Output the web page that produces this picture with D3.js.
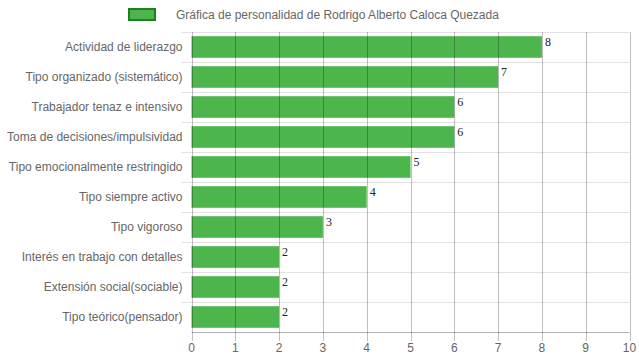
<!DOCTYPE html>
<html><head><meta charset="utf-8">
<script src="https://cdn.jsdelivr.net/npm/d3@7"></script>
<style>body{margin:0;background:#fff}svg{display:block}</style>
</head><body>
<script>
const categories = ["Actividad de liderazgo","Tipo organizado (sistemático)","Trabajador tenaz e intensivo","Toma de decisiones/impulsividad","Tipo emocionalmente restringido","Tipo siempre activo","Tipo vigoroso","Interés en trabajo con detalles","Extensión social(sociable)","Tipo teórico(pensador)"];
const values = [8,7,6,6,5,4,3,2,2,2];
const xTicks = [0,1,2,3,4,5,6,7,8,9,10];
const legendLabel = "Gráfica de personalidad de Rodrigo Alberto Caloca Quezada";

const W = 639, H = 360;
const m = {left:191.5, right:9.5, top:32, bottom:28};
const svg = d3.select("body").append("svg").attr("width",W).attr("height",H);
const x = d3.scaleLinear().domain([0,10]).range([m.left, W-m.right]);
const y = d3.scaleBand().domain(categories).range([m.top, H-m.bottom]).paddingInner(0).paddingOuter(0);
const font = "Arial, 'Liberation Sans', sans-serif";

// horizontal grid lines
const hLines = categories.map((c,i)=>y(c)).concat([y.range()[1]]);
svg.append("g").selectAll("line").data(hLines.slice(0,-1)).join("line")
  .attr("x1", m.left-10).attr("x2", W-m.right).attr("y1", d=>Math.round(d)+0.5).attr("y2", d=>Math.round(d)+0.5)
  .attr("stroke","#e2e2e2").attr("stroke-width",1);

// bars
const bw = y.bandwidth()*0.72;
svg.append("g").selectAll("rect").data(values).join("rect")
  .attr("x", x(0)).attr("y",(d,i)=>y(categories[i]) + (y.bandwidth()-bw)/2)
  .attr("width", d=>x(d)-x(0)).attr("height", bw)
  .attr("fill","#4cb54c");

// vertical grid lines (drawn over bars)
svg.append("g").selectAll("line").data(xTicks).join("line")
  .attr("x1", d=>Math.round(x(d))+0.5).attr("x2", d=>Math.round(x(d))+0.5)
  .attr("y1", m.top).attr("y2", H-m.bottom+9)
  .attr("stroke", d=> d===0 ? "rgba(0,0,0,0.25)" : "rgba(0,0,0,0.25)").attr("stroke-width",1);

// bottom axis line
svg.append("line").attr("x1", m.left).attr("x2", W-m.right)
  .attr("y1", H-m.bottom+0.5).attr("y2", H-m.bottom+0.5).attr("stroke","rgba(0,0,0,0.3)");

// x tick labels
svg.append("g").selectAll("text").data(xTicks).join("text")
  .attr("x", d=>x(d)).attr("y", H-m.bottom+20)
  .attr("text-anchor","middle").attr("font-family",font).attr("font-size",12).attr("fill","#666")
  .text(d=>d);

// category labels
svg.append("g").selectAll("text").data(categories).join("text")
  .attr("x", m.left-9).attr("y", d=>y(d)+y.bandwidth()/2+4)
  .attr("text-anchor","end").attr("font-family",font).attr("font-size",12).attr("fill","#666")
  .text(d=>d);

// value labels
svg.append("g").selectAll("text").data(values).join("text")
  .attr("x", d=>x(d)+3).attr("y",(d,i)=>y(categories[i]) + (y.bandwidth()-bw)/2 + 10)
  .attr("font-family","'Liberation Serif', 'Times New Roman', serif").attr("font-size",12).attr("fill","#222")
  .text(d=>d);

// legend
const lg = svg.append("g");
lg.append("rect").attr("x",129).attr("y",9).attr("width",26).attr("height",11)
  .attr("fill","#4cb54c").attr("stroke","#1f7f1f").attr("stroke-width",2);
lg.append("text").attr("x",176).attr("y",19).attr("font-family",font).attr("font-size",12).attr("fill","#666")
  .text(legendLabel);
</script>
</body></html>
